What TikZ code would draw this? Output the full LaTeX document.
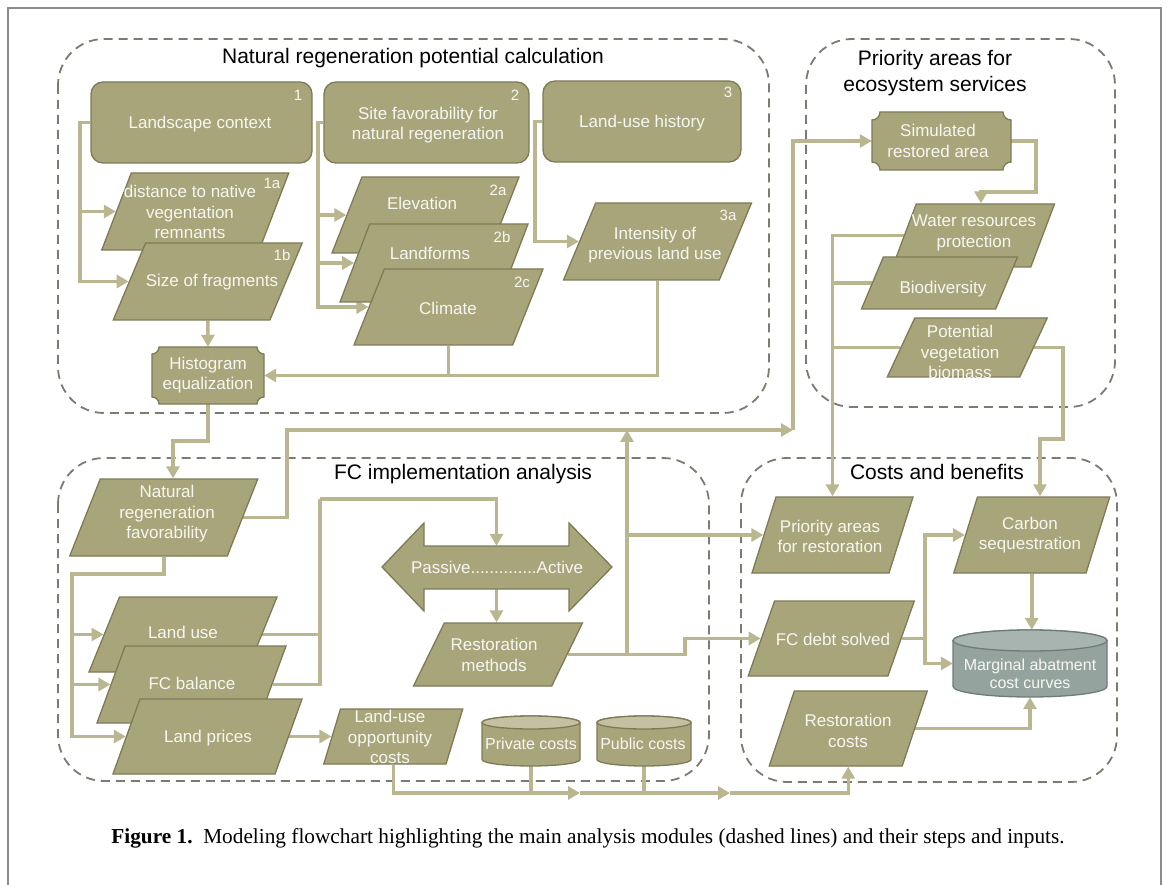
\documentclass[tikz,border=0pt]{standalone}
\usepackage{fontspec}
\setmainfont{Liberation Serif}
\newfontfamily\sansf{Liberation Sans}
\usetikzlibrary{shapes.geometric,arrows.meta,calc}
\definecolor{nodefill}{HTML}{A9A57B}
\definecolor{nodeborder}{HTML}{7E7A56}
\definecolor{conncol}{HTML}{BAB690}
\definecolor{modcol}{HTML}{7B7B70}
\definecolor{macfill}{HTML}{95A39E}
\definecolor{mactop}{HTML}{A8B4AF}
\definecolor{macborder}{HTML}{6E7C78}
\definecolor{cyltop}{HTML}{C4C1A2}
\definecolor{framecol}{HTML}{8C8C8C}
\definecolor{txtcol}{HTML}{F7F7F2}
\pgfdeclarelayer{background}
\pgfsetlayers{background,main}
\newcommand\ndfont{\sansf\fontsize{17}{20.5}\selectfont}
\newcommand\ndsmall{\sansf\fontsize{16}{18.5}\selectfont}
\newcommand\numfont{\sansf\fontsize{15}{18}\selectfont}
\newcommand\ttlfont{\sansf\fontsize{21}{26}\selectfont}
\newcommand\capfont{\fontsize{21.3}{25}\selectfont}
\tikzset{
  shapestyle/.style={draw=nodeborder, fill=nodefill, line width=1.3pt},
  para/.style 2 args={shapestyle, trapezium, trapezium stretches=true,
     trapezium left angle=#1, trapezium right angle=#2, inner sep=2pt},
  rbox/.style={shapestyle, rectangle, rounded corners=12pt, inner sep=0pt},
  txt/.style={text=txtcol, font=\ndfont, align=center, inner sep=0pt},
  smalltxt/.style={text=txtcol, font=\ndsmall, align=center, inner sep=0pt},
  numlbl/.style={text=txtcol, font=\numfont, inner sep=0pt},
  ttl/.style={text=black, font=\ttlfont, align=center, inner sep=0pt},
  conn/.style={draw=conncol, line width=3.5pt},
  arr/.style={-{Triangle[length=12pt,width=13pt]}},
  module/.style={draw=modcol, line width=1.8pt, dash pattern=on 9pt off 6pt, rounded corners=46pt},
  ghost/.style={inner sep=0pt, rectangle},
}
\newcommand{\plaquepath}[5]{% x1 y1 x2 y2 r
  (#1+#5,#2) -- (#3-#5,#2) arc[start angle=180,end angle=270,radius=#5pt]
  -- (#3,#4-#5) arc[start angle=90,end angle=180,radius=#5pt]
  -- (#1+#5,#4) arc[start angle=0,end angle=90,radius=#5pt]
  -- (#1,#2+#5) arc[start angle=270,end angle=360,radius=#5pt] -- cycle}
\newcommand{\drawcyl}[8]{% x1 yt x2 yb rx ry body top border
  \filldraw[fill=#7,draw=#8,line width=1.3pt] (#1,#2+#6) -- (#1,#4-#6)
    arc[start angle=180,end angle=360,x radius=#5pt,y radius=#6pt]
    -- (#3,#2+#6) arc[start angle=0,end angle=180,x radius=#5pt,y radius=#6pt] -- cycle;
}
\begin{document}
\begin{tikzpicture}[x=1pt,y=-1pt]
\useasboundingbox (0,0) rectangle (1171,885);
\draw[draw=framecol, line width=1.5pt] (8,885) -- (8,8) -- (1161,8) -- (1161,885);

% ---------- Module 1 ----------
\node[rbox, minimum width=221pt, minimum height=81pt] (lc) at (201.5,122.5) {};
\node[txt] at (200,124) {Landscape context};
\node[numlbl] at (298,95) {1};
\node[rbox, minimum width=205pt, minimum height=81pt] (sf) at (426.5,122.5) {};
\node[txt] at (428,125) {Site favorability for\\natural regeneration};
\node[numlbl] at (515,95) {2};
\node[rbox, minimum width=198pt, minimum height=81pt] (luh) at (642,121.5) {};
\node[txt] at (642,123) {Land-use history};
\node[numlbl] at (728,92) {3};

\node[para={77}{103}, minimum width=187pt, minimum height=77pt] (d1a) at (195.25,211.5) {};
\node[txt] at (190,212) {distance to native\\vegentation\\remnants};
\node[numlbl] at (272,183) {1a};
\node[para={75.4}{104.6}, minimum width=189pt, minimum height=77pt] (d1b) at (207.75,281.5) {};
\node[txt] at (212,282) {Size of fragments};
\node[numlbl] at (282,255) {1b};

\node[para={76.7}{103.3}, minimum width=187pt, minimum height=76pt] (elev) at (425.5,215) {};
\node[txt] at (422,203) {Elevation};
\node[numlbl] at (498,190) {2a};
\node[para={77}{103}, minimum width=188pt, minimum height=78pt] (landf) at (434,263) {};
\node[txt] at (430,253) {Landforms};
\node[numlbl] at (502,237) {2b};
\node[para={76.7}{103.3}, minimum width=189pt, minimum height=76pt] (clim) at (448.5,307) {};
\node[txt] at (448,308) {Climate};
\node[numlbl] at (522,282) {2c};

\node[para={75.4}{104.6}, minimum width=188pt, minimum height=77pt] (int) at (657.5,241.5) {};
\node[txt] at (655,245) {Intensity of\\previous land use};
\node[numlbl] at (728,215) {3a};

\fill[nodefill] \plaquepath{152}{347}{264}{404}{7};
\draw[nodeborder, line width=1.3pt] \plaquepath{152}{347}{264}{404}{7};
\node[ghost, minimum width=112pt, minimum height=57pt] (he) at (208,375.5) {};
\node[txt] at (208,375) {Histogram\\equalization};

% ---------- Module 3 ----------
\node[para={76.5}{103.5}, minimum width=188pt, minimum height=77pt] (nrf) at (163.75,517.5) {};
\node[txt] at (167,514) {Natural\\regeneration\\favorability};
\node[para={76.5}{103.5}, minimum width=188pt, minimum height=75pt] (lu) at (183,634.5) {};
\node[txt] at (183,632) {Land use};
\node[para={78}{102}, minimum width=189pt, minimum height=77pt] (fcb) at (191.5,684.5) {};
\node[txt] at (192,683) {FC balance};
\node[para={78.7}{101.3}, minimum width=189pt, minimum height=75pt] (lp) at (207.5,736.5) {};
\node[txt] at (208,738) {Land prices};
\node[para={81}{99}, minimum width=139pt, minimum height=55pt] (luoc) at (393.25,736.5) {};
\node[txt] at (390,737) {Land-use\\opportunity\\costs};

\filldraw[fill=nodefill, draw=nodeborder, line width=1.3pt]
  (382,567) -- (424,523) -- (424,546) -- (569,546) -- (569,523) -- (612,567)
  -- (569,611) -- (569,589) -- (424,589) -- (424,611) -- cycle;
\node[ghost, minimum width=145pt, minimum height=43pt] (pasact) at (496.5,567.5) {};
\node[txt] at (497,567) {Passive..............Active};

\node[para={74}{106}, minimum width=169pt, minimum height=63pt] (rm) at (498,654.5) {};
\node[txt] at (494,655) {Restoration\\methods};

\drawcyl{482}{716}{580}{766}{49}{6.5}{nodefill}{nodeborder}
\filldraw[fill=cyltop, draw=nodeborder, line width=1.3pt] (531,722.5) ellipse[x radius=49pt, y radius=6.5pt];
\node[ghost, minimum width=98pt, minimum height=50pt] (priv) at (531,741) {};
\node[smalltxt] at (531,744) {Private costs};
\drawcyl{597}{716}{691}{766}{47}{6.5}{nodefill}{nodeborder}
\filldraw[fill=cyltop, draw=nodeborder, line width=1.3pt] (644,722.5) ellipse[x radius=47pt, y radius=6.5pt];
\node[ghost, minimum width=94pt, minimum height=50pt] (pub) at (644,741) {};
\node[smalltxt] at (643,744) {Public costs};

% ---------- Module 2 ----------
\fill[nodefill] \plaquepath{872}{112}{1011}{170}{8};
\draw[nodeborder, line width=1.3pt] \plaquepath{872}{112}{1011}{170}{8};
\node[ghost, minimum width=139pt, minimum height=58pt] (sra) at (941.5,141) {};
\node[txt] at (938,141) {Simulated\\restored area};

\node[para={78.3}{101.7}, minimum width=162pt, minimum height=63pt] (wr) at (973.5,235.5) {};
\node[txt] at (974,233) {Water resources\\protection};
\node[para={79}{101}, minimum width=156pt, minimum height=52pt] (bio) at (939.5,283) {};
\node[txt] at (943,289) {Biodiversity};
\node[para={75.3}{104.7}, minimum width=160pt, minimum height=59pt] (pot) at (967.25,347.5) {};
\node[txt] at (960,352) {Potential\\vegetation\\biomass};

% ---------- Module 4 ----------
\node[para={78}{102}, minimum width=161pt, minimum height=76pt] (par) at (832.5,535) {};
\node[txt] at (830,536.5) {Priority areas\\for restoration};
\node[para={77.7}{102.3}, minimum width=156pt, minimum height=76pt] (cs) at (1031.75,535) {};
\node[txt] at (1030,535) {Carbon\\sequestration};
\node[para={76.9}{103.1}, minimum width=166pt, minimum height=75pt] (fcd) at (831.25,638.5) {};
\node[txt] at (833,639) {FC debt solved};
\node[para={76.9}{103.1}, minimum width=158pt, minimum height=75pt] (rc) at (848.25,728.5) {};
\node[txt] at (848,731) {Restoration\\costs};

\drawcyl{953}{630}{1107}{697}{77}{10.5}{macfill}{macborder}
\filldraw[fill=mactop, draw=macborder, line width=1.3pt] (1030,640.5) ellipse[x radius=77pt, y radius=10.5pt];
\node[ghost, minimum width=154pt, minimum height=67pt] (mac) at (1030,663.5) {};
\node[smalltxt] at (1030,674) {Marginal abatment\\cost curves};

% ---------- titles ----------
\node[ttl] (t1) at (413,58) {Natural regeneration potential calculation};
\node[ttl] (t2) at (935,73.5) {Priority areas for\\ecosystem services};
\node[ttl] (t3) at (463,474) {FC implementation analysis};
\node[ttl] (t4) at (937,472) {Costs and benefits};

\node[font=\capfont, text=black, inner sep=0pt] (cap) at (588,838)
  {\textbf{Figure 1.}\ \ Modeling flowchart highlighting the main analysis modules (dashed lines) and their steps and inputs.};

% ---------- background: modules and connectors ----------
\begin{pgfonlayer}{background}
\draw[module] (58,39) rectangle (769,413);
\draw[module] (806,39) rectangle (1115,407);
\draw[module] (58,458) rectangle (709,781);
\draw[module] (741,458) rectangle (1117,782);

\coordinate (a1) at (80,122.5);
\draw[conn,arr] (lc.west) -- (a1) |- (d1b);
\draw[conn,arr] (a1 |- d1a) -- (d1a);
\coordinate (a2) at (318,122.5);
\draw[conn,arr] (sf.west) -- (a2) |- (clim);
\draw[conn,arr] (a2 |- elev) -- (elev);
\draw[conn,arr] (a2 |- landf) -- (landf);
\coordinate (a3) at (535,121.5);
\draw[conn,arr] (luh.west) -- (a3) |- (int);
\draw[conn,arr] (d1b.south) -- (he.north);
\draw[conn,arr] (int.south) |- (he);
\draw[conn] (clim.south) -- (clim.south |- he);
\coordinate (h1) at (173,441);
\draw[conn,arr] (he.south) |- (h1) -- (h1 |- nrf.north);

\coordinate (k6) at (287,430);
\coordinate (m2) at (793,430);
\draw[conn,arr] (nrf) -| (k6) -- (m2);
\draw[conn,arr] (m2) |- (sra);
\coordinate (k1) at (72,574);
\draw[conn,arr] (nrf.south) |- (k1) |- (lp);
\draw[conn,arr] (k1 |- lu) -- (lu);
\draw[conn,arr] (k1 |- fcb) -- (fcb);
\coordinate (k2) at (320,499);
\draw[conn] (fcb) -| (k2);
\draw[conn] (lu) -- (lu -| k2);
\draw[conn,arr] (k2) -| (pasact.north);
\draw[conn,arr] (pasact.south) -- (pasact.south |- rm.north);
\coordinate (m1) at (627,430);
\draw[conn,arr] (rm) -| (m1);
\draw[conn,arr] (m1 |- par) -- (par);
\coordinate (k5) at (685,600);
\draw[conn,arr] (rm) -- (rm -| k5) |- (fcd);
\draw[conn,arr] (lp) -- (luoc);
\coordinate (j1) at (580,793);
\coordinate (j2) at (730,793);
\draw[conn,arr] (luoc.south) |- (j1);
\draw[conn,arr] (j1) -- (j2);
\draw[conn,arr] (j2) -| (rc.south);
\draw[conn] (priv.south) -- (priv.south |- j1);
\draw[conn] (pub.south) -- (pub.south |- j1);

\coordinate (s1) at (1036,192);
\coordinate (s2) at (981,192);
\draw[conn,arr] (sra) -| (s1) -- (s2) -- (s2 |- wr.north);
\draw[conn,arr] (wr) -| (par.north);
\draw[conn] (bio) -- (bio -| par.north);
\draw[conn] (pot) -- (pot -| par.north);
\coordinate (p1) at (1063,439);
\coordinate (p2) at (1040,439);
\draw[conn,arr] (pot) -| (p1) -- (p2) -- (p2 |- cs.north);

\coordinate (f1) at (925,600);
\draw[conn] (fcd) -- (fcd -| f1);
\draw[conn,arr] (fcd -| f1) |- (cs);
\draw[conn,arr] (fcd -| f1) |- (mac);
\draw[conn,arr] (cs.south) -- (cs.south |- mac.north);
\draw[conn,arr] (rc) -| (mac.south);
\end{pgfonlayer}
\end{tikzpicture}
\end{document}
